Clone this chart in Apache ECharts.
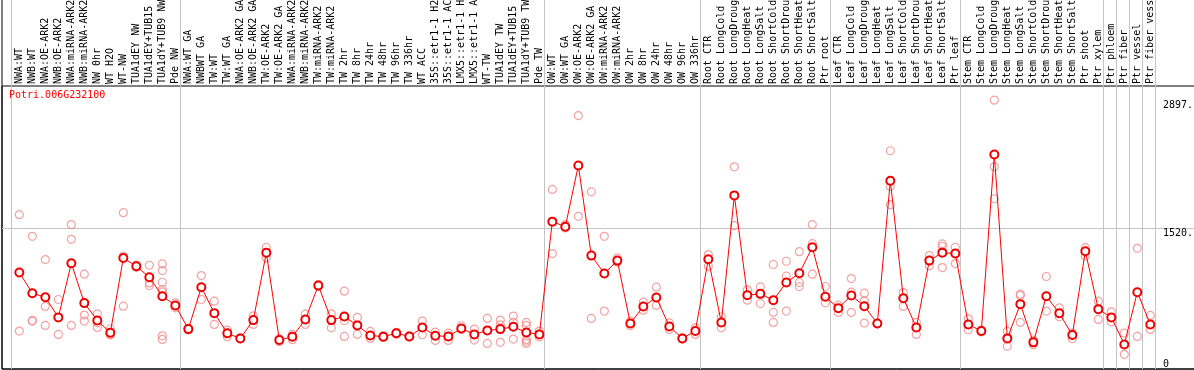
<!DOCTYPE html>
<html>
<head>
<meta charset="utf-8">
<script src="https://cdn.jsdelivr.net/npm/echarts@6/dist/echarts.min.js"></script>
<style>
html,body{margin:0;padding:0;background:#fff;}
#chart{width:1194px;height:370px;}
</style>
</head>
<body>
<div id="chart"></div>
<script>
const chartTitle = 'Potri.006G232100';

const categories = [
 'NWA:WT','NWB:WT','NWA:OE-ARK2','NWB:OE-ARK2','NWA:miRNA-ARK2','NWB:miRNA-ARK2','NW 0hr','WT H2O','WT-NW','TUA1dEY NW',
 'TUA1dEY+TUB15','TUA1dY+TUB9 NW','Pde NW',
 'NWA:WT GA','NWBWT GA','TW:WT','TW:WT GA','NWA:OE-ARK2 GA','NWB:OE-ARK2 GA','TW:OE-ARK2','TW:OE-ARK2 GA','NWA:miRNA-ARK2','NWB:miRNA-ARK2',
 'TW:miRNA-ARK2','TW:miRNA-ARK2 ','TW 2hr','TW 8hr','TW 24hr','TW 48hr','TW 96hr','TW 336hr','WT ACC','35S::etr1-1 H2',
 '35S::etr1-1 AC','LMX5::etr1-1 H','LMX5::etr1-1 A','WT-TW','TUA1dEY TW','TUA1dEY+TUB15 ','TUA1dY+TUB9 TW','Pde TW',
 'OW:WT','OW:WT GA','OW:OE-ARK2','OW:OE-ARK2 GA','OW:miRNA-ARK2','OW:miRNA-ARK2 ','OW 2hr','OW 8hr','OW 24hr','OW 48hr','OW 96hr','OW 336hr',
 'Root CTR','Root LongCold','Root LongDroug','Root LongHeat','Root LongSalt','Root ShortCold','Root ShortDrou','Root ShortHeat','Root ShortSalt','Ptr root',
 'Leaf CTR','Leaf LongCold','Leaf LongDroug','Leaf LongHeat','Leaf LongSalt','Leaf ShortCold','Leaf ShortDrou','Leaf ShortHeat','Leaf ShortSalt','Ptr leaf',
 'Stem CTR','Stem LongCold','Stem LongDroug','Stem LongHeat','Stem LongSalt','Stem ShortCold','Stem ShortDrou','Stem ShortHeat','Stem ShortSalt','Ptr shoot','Ptr xylem',
 'Ptr phloem','Ptr fiber','Ptr vessel','Ptr fiber vess'
];

// number of categories in each vertically separated group
const groupSizes = [13, 28, 12, 10, 10, 11, 1, 1, 1, 1];

const meanValues = [
 1040, 817, 774, 556, 1140, 710, 523, 391, 1197, 1108,
 989, 785, 685, 430, 882, 602, 384, 330, 527, 1254,
 312, 348, 534, 900, 527, 566, 470, 362, 348, 386,
 351, 448, 358, 351, 437, 373, 416, 430, 455, 394,
 373, 1588, 1534, 2194, 1222, 1029, 1168, 491, 674, 771,
 459, 330, 409, 1183, 502, 1871, 796, 810, 742, 932,
 1032, 1312, 778, 656, 792, 677, 491, 2029, 763, 448,
 1168, 1254, 1244, 480, 409, 2312, 330, 699, 287, 785,
 602, 366, 1269, 645, 556, 265, 828, 480
];

const replicateValues = [
 [1663, 409], [1430, 523, 516], [1179, 674, 470], [749, 373], [1556, 1398, 470],
 [1022, 581, 516], [595, 498, 448], [434, 373, 366], [1685, 1218, 677], [1120, 1096],
 [1118, 928, 900], [1132, 1061, 935, 857, 831, 358, 319], [713, 659], [440, 420], [1007, 749],
 [731, 480], [419, 348], [335, 325], [573, 480], [1312, 1197],
 [326, 294], [373, 316], [591, 480], [910, 890], [595, 444],
 [839, 520, 351], [556, 373], [405, 330], [360, 340], [395, 375],
 [358, 344], [516, 369], [398, 308], [387, 308], [466, 427],
 [430, 312], [545, 276], [527, 287, 476], [570, 502, 323], [502, 470, 394, 319, 298, 276],
 [409, 344], [1935, 1244], [1556, 1520], [2731, 1645], [1910, 545],
 [1430, 624], [1197, 1154], [516, 466], [720, 634], [882, 685],
 [498, 427], [336, 324], [444, 373], [1233, 1108], [563, 444],
 [2179, 1545], [853, 742], [885, 706], [1126, 610, 502], [1161, 1000, 624],
 [1265, 932, 889], [1556, 1351, 1022], [889, 713], [688, 610], [975, 828, 610],
 [817, 735, 495], [495, 487], [2352, 1968, 1771], [824, 674], [502, 373],
 [1222, 1111], [1348, 1321, 1093], [1312, 1136], [541, 423], [418, 400],
 [2897, 2179, 1835], [409, 244], [806, 792, 502], [312, 262], [997, 624],
 [659, 563], [387, 326], [1308, 1218], [731, 534], [616, 509],
 [387, 158], [1301, 351], [577, 427]
];

const tickValues = [0, 1520, 2897];
const tickLabels = ['0', '1520.', '2897.'];
const yMax = 3050;

// ---- build structures for the library ----
const boundarySet = new Set();
let acc = 0;
boundarySet.add(0);
groupSizes.forEach(n => { acc += n; boundarySet.add(acc); });

const repPoints = [];
replicateValues.forEach((arr, i) => arr.forEach(v => repPoints.push([i, v])));

const labelOf = v => tickLabels[tickValues.indexOf(v)];
const mono = 'DejaVu Sans Mono';

const chart = echarts.init(document.getElementById('chart'), null, {renderer: 'canvas'});
chart.setOption({
  animation: false,
  backgroundColor: '#fff',
  title: {
    text: chartTitle, left: 9, top: 90, padding: 0,
    textStyle: {color: '#ff0000', fontFamily: mono, fontSize: 10, fontWeight: 'normal'}
  },
  grid: [
    {left: 2, right: -2, top: -2, bottom: 1, show: true, borderColor: '#000', borderWidth: 1, backgroundColor: 'transparent', outerBoundsMode: 'none'},
    {left: 2, right: -2, top: 86, bottom: 1, show: true, borderColor: '#000', borderWidth: 1, backgroundColor: 'transparent', outerBoundsMode: 'none'},
    {left: 11, width: 1144, top: -2, bottom: 1, outerBoundsMode: 'none'},
    {left: 12.83, width: 1144, top: 86, bottom: 1, outerBoundsMode: 'none'}
  ],
  xAxis: [
    {gridIndex: 0, type: 'value', show: false},
    {gridIndex: 1, type: 'value', show: false},
    {gridIndex: 2, type: 'category', data: categories, boundaryGap: true,
      axisLine: {show: false}, axisTick: {show: false}, axisLabel: {show: false},
      splitLine: {show: true, interval: (i) => boundarySet.has(i), lineStyle: {color: '#c4c4c4', width: 1}}},
    {gridIndex: 3, type: 'category', data: categories, position: 'top', boundaryGap: true,
      axisLine: {show: false}, axisTick: {show: false}, splitLine: {show: false},
      axisLabel: {interval: 0, rotate: 90, margin: 2, fontFamily: mono, fontSize: 10, color: '#000', hideOverlap: false}}
  ],
  yAxis: [
    {gridIndex: 0, type: 'value', show: false},
    {gridIndex: 1, type: 'value', min: 0, max: yMax, position: 'right',
      axisLine: {show: false}, axisTick: {show: false, customValues: [tickValues[1]]},
      splitLine: {show: true, lineStyle: {color: '#c4c4c4', width: 1}},
      axisLabel: {inside: true, align: 'left', margin: 33, verticalAlign: 'top',
        customValues: [tickValues[1], tickValues[2]], formatter: labelOf,
        fontFamily: mono, fontSize: 10, color: '#000'}},
    {gridIndex: 1, type: 'value', min: 0, max: yMax, position: 'right',
      axisLine: {show: false}, axisTick: {show: false, customValues: [tickValues[0]]},
      splitLine: {show: false},
      axisLabel: {inside: true, align: 'left', margin: 33, verticalAlign: 'bottom',
        customValues: [tickValues[0]], formatter: labelOf,
        fontFamily: mono, fontSize: 10, color: '#000'}},
    {gridIndex: 2, type: 'value', show: false},
    {gridIndex: 3, type: 'value', min: 0, max: yMax, show: false}
  ],
  series: [
    {type: 'scatter', xAxisIndex: 3, yAxisIndex: 4, data: repPoints, z: 2, silent: true,
      symbol: 'circle', symbolSize: 8,
      itemStyle: {color: 'rgba(255,255,255,0)', borderColor: '#f08c8c', borderWidth: 1.2}},
    {type: 'line', xAxisIndex: 3, yAxisIndex: 4, data: meanValues, z: 3, silent: true,
      symbol: 'emptyCircle', symbolSize: 8,
      lineStyle: {color: '#ff0000', width: 1},
      itemStyle: {color: '#ee0000', borderWidth: 1.5}}
  ]
});
</script>
</body>
</html>
